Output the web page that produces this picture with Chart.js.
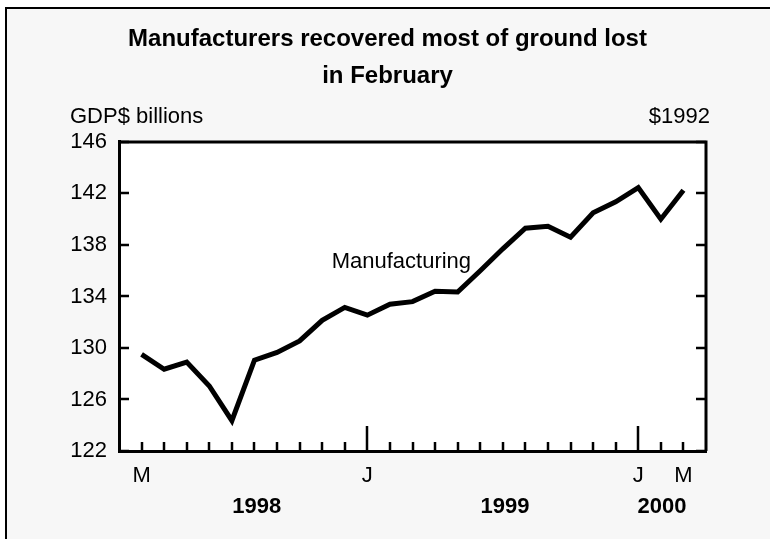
<!DOCTYPE html>
<html><head><meta charset="utf-8">
<script src="https://cdn.jsdelivr.net/npm/chart.js@4.4.1/dist/chart.umd.min.js"></script>
<style>html,body{margin:0;padding:0;background:#fff;overflow:hidden}</style>
</head><body>
<canvas id="c" width="770" height="539"></canvas>
<script>
// ---- data ----
const months = ['Mar 1998','Apr 1998','May 1998','Jun 1998','Jul 1998','Aug 1998','Sep 1998','Oct 1998','Nov 1998','Dec 1998',
  'Jan 1999','Feb 1999','Mar 1999','Apr 1999','May 1999','Jun 1999','Jul 1999','Aug 1999','Sep 1999','Oct 1999','Nov 1999','Dec 1999',
  'Jan 2000','Feb 2000','Mar 2000'];
const manufacturing = [129.5, 128.35, 128.9, 127.05, 124.35, 129.05, 129.65, 130.55, 132.15, 133.15,
  132.55, 133.4, 133.6, 134.4, 134.35, 136.0, 137.7, 139.3, 139.45, 138.6, 140.5, 141.35,
  142.45, 140.0, 142.25];
const monthTickLabels = ['M','','','','','','','','','', 'J','','','','','','','','','','','', 'J','','M'];
const majorTickIdx = [10, 22];
const yearLabels = ['1998', '1999', '2000'];
const yearLabelPos = [5.1, 16.1, 23.05];
const yTicks = [122, 126, 130, 134, 138, 142, 146];
const titleLines = ['Manufacturers recovered most of ground lost', 'in February'];
const unitLeft = 'GDP$ billions';
const unitRight = '$1992';
const seriesLabel = 'Manufacturing';
const seriesLabelAt = [8.42, 136.65];

const FONT = "'Liberation Sans', Arial, sans-serif";
Chart.defaults.font.family = FONT;
Chart.defaults.color = '#000';

const decor = {
  id: 'decor',
  beforeDraw(chart) {
    const {ctx, chartArea: a} = chart;
    ctx.save();
    ctx.fillStyle = '#ffffff';
    ctx.fillRect(0, 0, chart.width, chart.height);
    ctx.fillStyle = '#f7f7f7';
    ctx.fillRect(6, 8, chart.width - 6, chart.height - 8);
    ctx.strokeStyle = '#000';
    ctx.lineWidth = 2;
    ctx.beginPath();
    ctx.moveTo(6, chart.height); ctx.lineTo(6, 8); ctx.lineTo(chart.width, 8);
    ctx.stroke();
    ctx.fillStyle = '#ffffff';
    ctx.fillRect(a.left, a.top, a.right - a.left, a.bottom - a.top);
    ctx.restore();
  },
  beforeDatasetsDraw(chart) {
    const {ctx, chartArea: a, scales} = chart;
    ctx.save();
    ctx.strokeStyle = '#000';
    ctx.lineWidth = 2.5;
    ctx.beginPath();
    yTicks.forEach(v => {
      const y = Math.round(scales.y.getPixelForValue(v));
      ctx.moveTo(a.left, y); ctx.lineTo(a.left + 10, y);
      ctx.moveTo(a.right, y); ctx.lineTo(a.right - 10, y);
    });
    months.forEach((m, i) => {
      const x = Math.round(scales.x.getPixelForValue(i));
      const len = majorTickIdx.includes(i) ? 25 : 9;
      ctx.moveTo(x, a.bottom); ctx.lineTo(x, a.bottom - len);
    });
    ctx.stroke();
    ctx.lineWidth = 3;
    ctx.beginPath();
    ctx.moveTo(a.left, a.top); ctx.lineTo(a.right, a.top); ctx.lineTo(a.right, a.bottom);
    ctx.stroke();
    ctx.fillStyle = '#000';
    ctx.font = '22px ' + FONT;
    ctx.textBaseline = 'middle';
    ctx.textAlign = 'left';
    ctx.fillText(unitLeft, a.left - 49, a.top - 25);
    ctx.textAlign = 'right';
    ctx.fillText(unitRight, a.right + 4, a.top - 25);
    ctx.textAlign = 'left';
    ctx.fillText(seriesLabel, scales.x.getPixelForValue(seriesLabelAt[0]), scales.y.getPixelForValue(seriesLabelAt[1]));
    ctx.restore();
  }
};

new Chart(document.getElementById('c'), {
  type: 'line',
  data: {
    datasets: [{
      label: seriesLabel,
      data: manufacturing.map((v, i) => ({x: i, y: v})),
      borderColor: '#000',
      borderWidth: 5,
      pointRadius: 0,
      tension: 0,
      fill: false
    }]
  },
  options: {
    responsive: false,
    animation: false,
    devicePixelRatio: 1,
    events: [],
    layout: {padding: {top: 0, left: 69, right: 64, bottom: 8}},
    plugins: {
      legend: {display: false},
      tooltip: {enabled: false},
      title: {
        display: true,
        text: titleLines,
        color: '#000',
        font: {size: 24, weight: 'bold', lineHeight: 1.54, family: FONT},
        padding: {top: 20.5, bottom: 47.5}
      }
    },
    scales: {
      x: {
        type: 'linear', min: -1, max: 25, weight: 0,
        afterBuildTicks: s => { s.ticks = months.map((m, i) => ({value: i})); },
        afterFit: s => { s.height = 40; s.paddingLeft = 0; s.paddingRight = 0; },
        ticks: {autoSkip: false, maxRotation: 0, padding: 12, font: {size: 22},
          callback: (v, i) => monthTickLabels[i]},
        grid: {display: false, drawTicks: false},
        border: {display: true, color: '#000', width: 3}
      },
      x2: {
        type: 'linear', position: 'bottom', min: -1, max: 25, weight: 1,
        afterBuildTicks: s => { s.ticks = yearLabelPos.map(v => ({value: v})); },
        afterFit: s => { s.height = 40; s.paddingLeft = 0; s.paddingRight = 0; },
        ticks: {autoSkip: false, maxRotation: 0, padding: 3, font: {size: 22, weight: 'bold'},
          callback: (v, i) => yearLabels[i]},
        grid: {display: false, drawTicks: false},
        border: {display: false}
      },
      y: {
        type: 'linear', min: 122, max: 146,
        afterBuildTicks: s => { s.ticks = yTicks.map(v => ({value: v})); },
        afterFit: s => { s.width = 50; s.paddingTop = 0; s.paddingBottom = 0; },
        ticks: {padding: 12, font: {size: 22}},
        grid: {display: false, drawTicks: false},
        border: {display: true, color: '#000', width: 3}
      }
    }
  },
  plugins: [decor]
});
</script>
</body></html>
